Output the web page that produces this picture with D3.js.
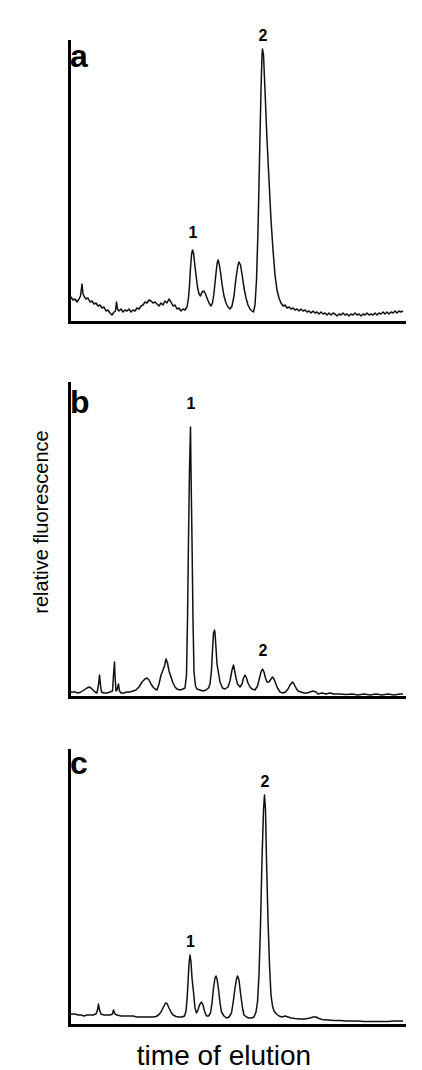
<!DOCTYPE html>
<html>
<head>
<meta charset="utf-8">
<script src="https://cdn.jsdelivr.net/npm/d3@7"></script>
<style>
  html, body { margin: 0; padding: 0; background: #fff; }
  svg { display: block; }
  text { font-family: "Liberation Sans", Arial, Helvetica, sans-serif; fill: #000; }
</style>
</head>
<body>
<svg id="chart" width="422" height="1070"></svg>
<script>
// ---- data: time of elution (arbitrary units) vs relative fluorescence (arbitrary units) ----
const traceA = [
  [0,11],[0.4,12.5],[0.8,11],[1.2,11.5],[1.6,10],[2.0,11.5],[2.3,13],[2.6,19],[2.8,14],[3.1,12.5],
  [3.4,11.5],[3.8,12],[4.2,10],[4.6,10.5],[5.0,9],[5.4,9.5],[5.8,8],[6.2,8.5],[6.6,7],[7.0,7.5],
  [7.4,5.5],[7.8,6],[8.2,4.5],[8.6,3.5],[9.0,5],[9.3,5.5],[9.5,10],[9.7,6.5],[10.0,5.5],[10.4,6.5],
  [10.8,5],[11.2,6],[11.6,5.5],[12.0,6.5],[12.4,5],[12.8,6],[13.2,5.5],[13.6,7],[14.0,6.5],[14.4,8],
  [14.8,8.5],[15.2,10],[15.6,9.5],[16.0,11],[16.4,10.5],[16.8,9.5],[17.2,10],[17.6,9],[18.0,8],[18.4,9.5],
  [18.8,8.5],[19.2,10.5],[19.6,9.5],[20.0,11.5],[20.4,10],[20.8,8],[21.2,8.5],[21.6,6.5],[22.0,7],[22.4,5.5],
  [22.8,6.5],[23.2,6],[23.6,7.5],[23.9,12],[24.1,18.5],[24.3,27],[24.5,33.5],[24.7,36],[24.9,34.5],[25.1,30],
  [25.4,23.5],[25.7,17.5],[26.0,14],[26.3,13],[26.6,15],[27.0,15.5],[27.3,14],[27.6,12],[28.0,9.5],[28.4,8],
  [28.7,9.5],[29.0,14.5],[29.3,22],[29.6,29],[29.8,31],[30.0,29.5],[30.3,25],[30.6,19],[31.0,13],[31.4,9.5],
  [31.8,7.5],[32.2,6.5],[32.6,8],[33.0,13],[33.4,22],[33.8,28.5],[34.0,30],[34.3,28.5],[34.6,24],[35.0,17],
  [35.4,12],[35.8,8.5],[36.2,6.5],[36.6,5.5],[36.9,5],[37.2,8.5],[37.5,21],[37.8,46],[38.1,81],[38.4,116],
  [38.6,133.5],[38.7,136.5],[38.9,133.5],[39.2,116],[39.6,91],[40.0,71],[40.4,51],[40.8,36],[41.2,23.5],[41.6,16],
  [42.0,12],[42.4,9.5],[42.8,8],[43.2,8.5],[43.6,7],[44.0,7.5],[44.4,6.5],[44.8,7],[45.2,6],[45.6,6.5],
  [46.0,5.5],[46.4,6.5],[46.8,5.5],[47.2,6],[47.6,5],[48.0,5.5],[48.4,4.5],[48.8,5.5],[49.2,4.5],[49.6,5],
  [50.0,4],[50.4,5],[50.8,4],[51.2,4.5],[51.6,3.5],[52.0,4.5],[52.4,3.5],[52.8,4.5],[53.2,4],[53.6,3],
  [54.0,4],[54.4,3.5],[54.8,4.5],[55.2,3.5],[55.6,4],[56.0,3],[56.4,4],[56.8,3.5],[57.2,4.5],[57.6,3.5],
  [58.0,4],[58.4,3],[58.8,4],[59.2,3.5],[59.6,4.5],[60.0,3.5],[60.4,4],[60.8,3.5],[61.2,4.5],[61.6,3.5],
  [62.0,4.5],[62.4,4],[62.8,5],[63.2,4],[63.6,5],[64.0,4],[64.4,5],[64.8,4.5],[65.2,5.5],[65.6,4.5],
  [66.0,5.5],[66.4,5],[66.8,5.5]
];
const traceB = [
  [0,2],[0.6,2.5],[1.2,2.5],[1.8,2],[2.4,2.5],[3.0,3.5],[3.6,4.5],[4.0,5],[4.4,4.5],[4.8,3.5],
  [5.2,2.5],[5.6,2],[5.9,6],[6.1,11],[6.3,6],[6.5,2.5],[7.0,2],[7.6,2],[8.2,2.5],[8.7,3],
  [8.9,11],[9.1,17.5],[9.2,11],[9.4,3],[9.6,3.5],[9.9,6.5],[10.1,3],[10.4,2],[11.0,2],[11.6,2.5],
  [12.2,2.5],[12.8,3],[13.4,3.5],[14.0,5],[14.6,7.5],[15.2,9],[15.6,9.5],[16.0,8.5],[16.4,6.5],[16.8,5],
  [17.2,4],[17.6,3.5],[18.0,6.5],[18.4,11],[18.8,13.5],[19.1,15.5],[19.4,19],[19.7,17],[20.0,13],[20.4,10],
  [20.8,7],[21.2,5],[21.6,4],[22.2,3.5],[22.8,4],[23.2,4.5],[23.5,11],[23.7,38.5],[23.9,78.5],[24.1,113.5],
  [24.3,135],[24.4,113.5],[24.6,78.5],[24.8,38.5],[25.0,12.5],[25.3,5.5],[25.6,4],[26.2,3.5],[26.8,3],[27.4,3.5],
  [27.9,4.5],[28.2,6.5],[28.5,13.5],[28.7,23.5],[28.9,32],[29.1,33.5],[29.2,32],[29.4,24.5],[29.6,16.5],[29.9,12],
  [30.2,7.5],[30.7,4.5],[31.2,4],[31.8,5],[32.2,8],[32.6,13.5],[32.9,16],[33.1,13.5],[33.4,9.5],[33.7,6.5],
  [34.2,5],[34.6,6.5],[34.9,9.5],[35.2,11],[35.5,9.5],[35.8,7],[36.2,5],[36.6,4],[37.2,3.5],[37.7,5.5],
  [38.1,9.5],[38.4,12.5],[38.7,14],[39.0,12.5],[39.3,9.5],[39.6,7.5],[40.0,7.5],[40.4,9],[40.7,10],[41.0,9],
  [41.3,7],[41.7,4.5],[42.2,2.5],[42.8,2],[43.3,2.5],[43.8,4],[44.2,6],[44.7,7.5],[45.0,6.5],[45.4,4.5],
  [45.8,3],[46.4,2.5],[47.0,2],[47.6,2],[48.2,2.5],[48.8,3],[49.4,2.5],[49.8,1.5],[50.6,2],[51.4,1.5],
  [52.2,2],[53.0,1.5],[54.2,1.5],[55.4,1.25],[56.6,1.5],[57.8,1],[59.0,1.5],[60.2,1],[61.4,1.5],[62.6,1],
  [63.8,1.5],[65.0,1],[66.2,1.5],[66.8,1.5]
];
const traceC = [
  [0,5],[0.6,5.5],[1.2,5.5],[1.8,5],[2.4,5],[3.0,4.5],[3.6,5],[4.2,5],[4.8,5],[5.4,5.5],
  [5.7,7.5],[5.9,10.5],[6.1,7.5],[6.4,5.5],[7.0,5],[7.6,5],[8.2,5],[8.7,5.5],[8.9,7.5],[9.2,5.5],
  [9.6,5],[10.4,4.5],[11.2,4.5],[12.0,4.5],[12.8,4.5],[13.6,4],[14.4,4],[15.2,4],[16.0,4],[16.8,4],
  [17.4,4.25],[17.9,5],[18.4,6.5],[18.9,9],[19.3,11],[19.6,10.75],[20.0,8.5],[20.4,6.5],[20.8,5],[21.4,4.25],
  [22.0,4],[22.6,4],[23.1,4.5],[23.4,7],[23.6,12.5],[23.8,21],[24.0,30.5],[24.2,35],[24.4,31.5],[24.6,23.5],
  [24.9,16.5],[25.2,8.5],[25.5,6],[25.8,7.5],[26.1,10],[26.5,11.5],[26.8,10],[27.1,7],[27.5,4.5],[27.9,4.5],
  [28.3,6],[28.6,11],[28.9,18.5],[29.2,23.5],[29.4,24.5],[29.6,23],[29.9,18],[30.2,11],[30.5,6.5],[31.0,4.5],
  [31.5,3.5],[32.0,4],[32.5,6],[32.9,12.5],[33.2,18.5],[33.5,23],[33.7,24.5],[34.0,22.5],[34.3,16],[34.7,8.5],
  [35.0,5],[35.5,4],[36.0,3.5],[36.5,3.5],[37.0,4],[37.4,6.5],[37.7,11.5],[38.0,25],[38.3,50],[38.6,82.5],
  [38.9,107.5],[39.1,115],[39.3,107.5],[39.5,82.5],[39.8,52.5],[40.1,30],[40.4,15],[40.7,9.5],[41.0,7],[41.5,5.5],
  [42.0,4.5],[42.6,4],[43.2,4.5],[43.8,4],[44.4,3.5],[45.2,3.25],[46.2,3],[47.2,3],[48.2,3.5],[48.8,4],
  [49.4,4],[50.0,3.25],[50.6,2.75],[51.8,2.5],[53.0,2.25],[54.2,2.25],[55.4,2],[56.6,2],[57.8,2],[59.0,1.75],
  [60.2,1.75],[61.4,1.75],[62.6,1.75],[63.8,1.75],[65.0,2],[66.2,2],[66.8,2]
];
const panelLetters = ["a", "b", "c"];
const peakLabelsA = [{ label: "1", t: 24.7, v: 36 }, { label: "2", t: 38.7, v: 136.5 }];
const peakLabelsB = [{ label: "1", t: 24.3, v: 135 }, { label: "2", t: 38.7, v: 14 }];
const peakLabelsC = [{ label: "1", t: 24.2, v: 35 }, { label: "2", t: 39.1, v: 115 }];
const xTitle = "time of elution";
const yTitle = "relative fluorescence";

// ---- layout ----
const svg = d3.select("#chart");
const xLeft = 69, xRight = 404;
const x = d3.scaleLinear().domain([0, 67]).range([xLeft, xRight]);

const panels = [
  { letter: panelLetters[0], data: traceA, labels: peakLabelsA, top: 41,  bottom: 322, labelGap: [12, 8] },
  { letter: panelLetters[1], data: traceB, labels: peakLabelsB, top: 383, bottom: 697, labelGap: [18, 13] },
  { letter: panelLetters[2], data: traceC, labels: peakLabelsC, top: 750, bottom: 1025, labelGap: [8, 8] }
];

panels.forEach(p => {
  const y = d3.scaleLinear().domain([0, (p.bottom - p.top) / 2]).range([p.bottom, p.top]);
  const g = svg.append("g");

  // trace
  const line = d3.line().x(d => x(d[0])).y(d => y(d[1]));
  g.append("path")
    .datum(p.data)
    .attr("d", line)
    .attr("fill", "none")
    .attr("stroke", "#111")
    .attr("stroke-width", 1.5)
    .attr("stroke-linejoin", "round");

  // axes (no ticks)
  const xAxis = d3.axisBottom(x).tickValues([]).tickSizeOuter(0);
  const yAxis = d3.axisLeft(y).tickValues([]).tickSizeOuter(0);
  const gx = g.append("g").attr("transform", `translate(0,${p.bottom})`).call(xAxis);
  const gy = g.append("g").attr("transform", `translate(${xLeft},0)`).call(yAxis);
  [gx, gy].forEach(a => a.select(".domain").attr("stroke", "#000").attr("stroke-width", 3).attr("stroke-linecap", "square"));

  // panel letter
  g.append("text")
    .attr("x", xLeft + 1)
    .attr("y", p.top + (p.letter === "b" ? 30 : p.letter === "a" ? 26 : 24))
    .attr("font-size", 32)
    .attr("font-weight", "bold")
    .text(p.letter);

  // peak labels
  p.labels.forEach((l, i) => {
    g.append("text")
      .attr("x", x(l.t) + 0.5)
      .attr("y", y(l.v) - p.labelGap[i === 0 ? 0 : 1])
      .attr("text-anchor", "middle")
      .attr("font-size", 16)
      .attr("font-weight", "bold")
      .text(l.label);
  });
});

// axis titles
svg.append("text")
  .attr("transform", "translate(48,522) rotate(-90)")
  .attr("text-anchor", "middle")
  .attr("font-size", 20)
  .text(yTitle);

svg.append("text")
  .attr("x", 224)
  .attr("y", 1065)
  .attr("text-anchor", "middle")
  .attr("font-size", 28)
  .text(xTitle);
</script>
</body>
</html>
